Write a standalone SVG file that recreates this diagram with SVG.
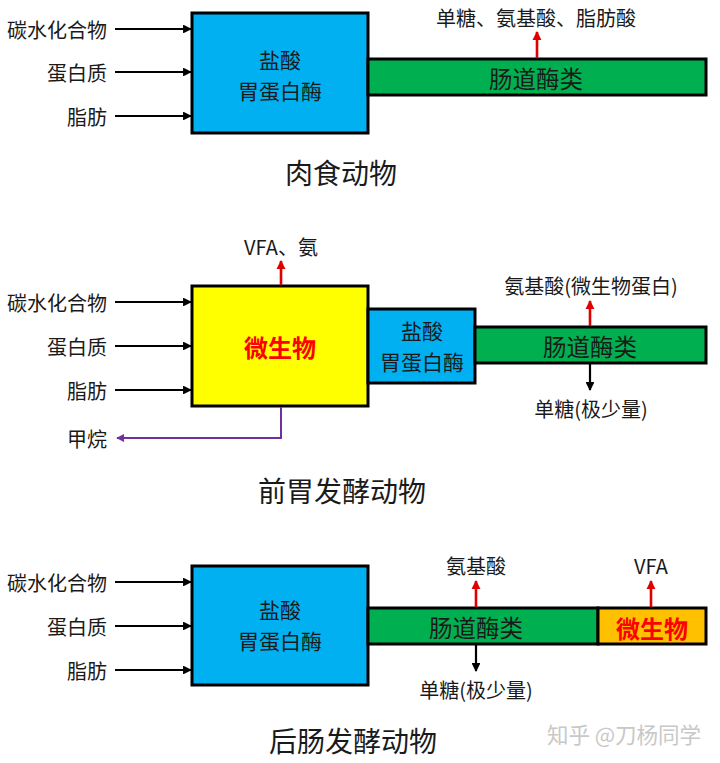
<svg xmlns="http://www.w3.org/2000/svg" width="720" height="763" viewBox="0 0 720 763">
<defs>
<marker id="ab" viewBox="0 0 10 10" refX="9" refY="5" markerWidth="4" markerHeight="4" orient="auto"><path d="M0,0 L10,5 L0,10 z" fill="#000"/></marker>
<marker id="ar" viewBox="0 0 10 10" refX="9" refY="5" markerWidth="3.6" markerHeight="3.6" orient="auto"><path d="M0,0 L10,5 L0,10 z" fill="#e00000"/></marker>
<marker id="ap" viewBox="0 0 10 10" refX="9" refY="5" markerWidth="4" markerHeight="4" orient="auto"><path d="M0,0 L10,5 L0,10 z" fill="#7030a0"/></marker>
</defs>
<style>
text{font-family:"Noto Sans CJK SC","Noto Sans",sans-serif;fill:#1a1a1a}
.lbl{font-size:20px;text-anchor:end;dominant-baseline:central}
.c{text-anchor:middle;dominant-baseline:central}
.bx{font-size:23.5px}
.bx2{font-size:21px}
.sm{font-size:20px}
.tt{font-size:28px}
.mic{font-size:24px;fill:#ff0000;font-weight:bold}
.box{stroke:#000;stroke-width:3}
.blk{stroke:#000;stroke-width:2.2;fill:none;marker-end:url(#ab)}
.red{stroke:#e00000;stroke-width:2.6;fill:none;marker-end:url(#ar)}
.pur{stroke:#7030a0;stroke-width:2;fill:none;marker-end:url(#ap)}
.wm{font-size:21.5px;fill:#c8c8c8;text-anchor:middle;dominant-baseline:central}
</style>

<!-- Section 1 -->
<g id="s1-inputs">
<text class="lbl" x="107" y="29">碳水化合物</text>
<text class="lbl" x="107" y="72">蛋白质</text>
<text class="lbl" x="107" y="116">脂肪</text>
</g>
<g id="s1-stomach"><rect class="box" x="192" y="13" width="176" height="120" fill="#00b0f0"/>
<text class="c bx2" x="280" y="59">盐酸</text><text class="c bx2" x="280" y="90">胃蛋白酶</text></g>
<g id="s1-intestine"><rect class="box" x="368" y="59" width="338" height="36" fill="#00b050"/>
<text class="c bx" x="536" y="78">肠道酶类</text></g>
<g id="s1-out"><text class="c sm" x="536" y="17">单糖、氨基酸、脂肪酸</text></g>
<g id="s1-title"><text class="c tt" x="341" y="172">肉食动物</text></g>

<!-- Section 2 -->
<g id="s2-inputs">
<text class="lbl" x="107" y="302">碳水化合物</text>
<text class="lbl" x="107" y="346">蛋白质</text>
<text class="lbl" x="107" y="390">脂肪</text>
<text class="lbl" x="107" y="438">甲烷</text>
</g>
<g id="s2-rumen"><rect class="box" x="192" y="286" width="176" height="120" fill="#ffff00"/>
<text class="c mic" x="280" y="346">微生物</text></g>
<g id="s2-stomach"><rect class="box" x="368" y="309" width="107" height="74" fill="#00b0f0"/>
<text class="c bx2" x="422" y="330">盐酸</text><text class="c bx2" x="422" y="361">胃蛋白酶</text></g>
<g id="s2-intestine"><rect class="box" x="475" y="327" width="231" height="36" fill="#00b050"/>
<text class="c bx" x="590" y="346">肠道酶类</text></g>
<g id="s2-out">
<text class="c sm" x="281" y="246">VFA、氨</text>
<text class="c sm" x="591" y="285">氨基酸(微生物蛋白)</text>
<text class="c sm" x="591" y="408">单糖(极少量)</text>
</g>
<g id="s2-title"><text class="c tt" x="342" y="490">前胃发酵动物</text></g>

<!-- Section 3 -->
<g id="s3-inputs">
<text class="lbl" x="107" y="582">碳水化合物</text>
<text class="lbl" x="107" y="626">蛋白质</text>
<text class="lbl" x="107" y="670">脂肪</text>
</g>
<g id="s3-stomach"><rect class="box" x="192" y="566" width="176" height="119" fill="#00b0f0"/>
<text class="c bx2" x="280" y="609">盐酸</text><text class="c bx2" x="280" y="640">胃蛋白酶</text></g>
<g id="s3-intestine"><rect class="box" x="368" y="608" width="230" height="36" fill="#00b050"/>
<text class="c bx" x="476" y="627">肠道酶类</text></g>
<g id="s3-hindgut"><rect class="box" x="598" y="608" width="108" height="36" fill="#ffc000"/>
<text class="c mic" x="652" y="627">微生物</text></g>
<g id="s3-out">
<text class="c sm" x="476" y="565">氨基酸</text>
<text class="c sm" x="651" y="565">VFA</text>
<text class="c sm" x="476" y="689">单糖(极少量)</text>
</g>
<g id="s3-title"><text class="c tt" x="353" y="740">后肠发酵动物</text></g>

<g id="watermark"><text class="wm" x="624" y="733">知乎 @刀杨同学</text></g>

<g id="connectors">
<line class="blk" x1="115" y1="29" x2="191" y2="29"/>
<line class="blk" x1="115" y1="72" x2="191" y2="72"/>
<line class="blk" x1="115" y1="116" x2="191" y2="116"/>
<line class="red" x1="537" y1="58" x2="537" y2="32"/>

<line class="blk" x1="115" y1="302" x2="191" y2="302"/>
<line class="blk" x1="115" y1="346" x2="191" y2="346"/>
<line class="blk" x1="115" y1="390" x2="191" y2="390"/>
<line class="red" x1="281" y1="285" x2="281" y2="261"/>
<polyline class="pur" points="281,407 281,438 117,438"/>
<line class="red" x1="590" y1="326" x2="590" y2="301"/>
<line class="blk" x1="590" y1="364" x2="590" y2="390"/>

<line class="blk" x1="115" y1="582" x2="191" y2="582"/>
<line class="blk" x1="115" y1="626" x2="191" y2="626"/>
<line class="blk" x1="115" y1="670" x2="191" y2="670"/>
<line class="red" x1="476" y1="607" x2="476" y2="581"/>
<line class="red" x1="651" y1="607" x2="651" y2="581"/>
<line class="blk" x1="476" y1="645" x2="476" y2="671"/>
</g>
</svg>
